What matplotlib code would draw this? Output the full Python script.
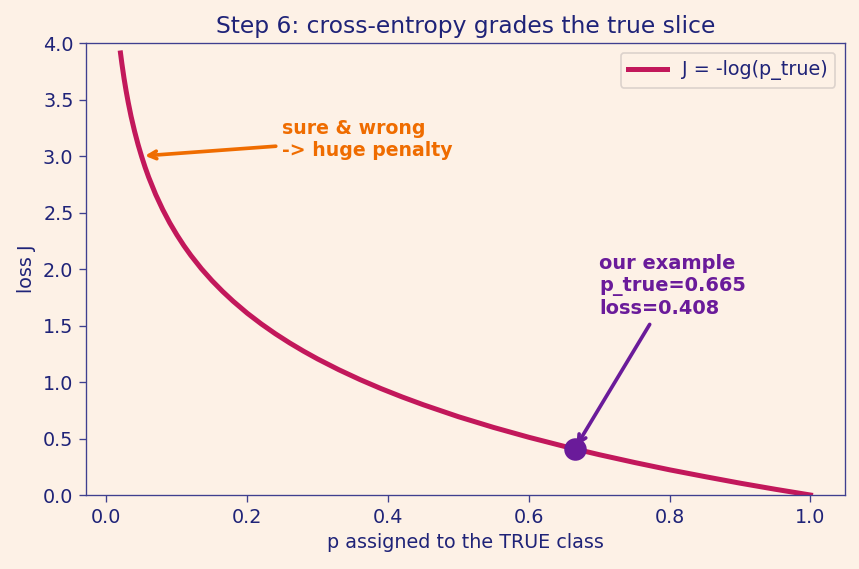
import numpy as np
import matplotlib
matplotlib.use('Agg')
import matplotlib.pyplot as plt

# values
p_true = [0.02, 0.022, 0.025, 0.028, 0.031, 0.035, 0.04, 0.045, 0.05, 0.055, 0.06,
          0.07, 0.08, 0.09, 0.1, 0.11, 0.12, 0.135, 0.15, 0.165, 0.18, 0.2, 0.22,
          0.24, 0.26, 0.28, 0.3, 0.33, 0.36, 0.39, 0.42, 0.45, 0.5, 0.55, 0.6,
          0.65, 0.7, 0.75, 0.8, 0.85, 0.9, 0.95, 1.0]
loss = [3.912, 3.817, 3.689, 3.576, 3.474, 3.352, 3.219, 3.101, 2.996, 2.900, 2.813,
        2.659, 2.526, 2.408, 2.303, 2.207, 2.120, 2.002, 1.897, 1.802, 1.715, 1.609, 1.514,
        1.427, 1.347, 1.273, 1.204, 1.109, 1.022, 0.942, 0.868, 0.799, 0.693, 0.598, 0.511,
        0.431, 0.357, 0.288, 0.223, 0.163, 0.105, 0.051, 0.0]

ex_p = 0.665
ex_loss = 0.408

bg = '#fdf1e6'
navy = '#1f2378'
spine_c = '#3f3f8f'
red = '#c2185b'
orange = '#ef6c00'
purple = '#6a1b9a'

fig = plt.figure(figsize=(859 / 120, 569 / 120), dpi=120, facecolor=bg)
ax = fig.add_axes([0.1001, 0.13, 0.8836, 0.7944])
ax.set_facecolor(bg)

ax.plot(p_true, loss, color=red, lw=3, label='J = -log(p_true)')
ax.plot([ex_p], [ex_loss], 'o', color=purple, markersize=12.5, zorder=5)

ax.set_ylim(0, 4)
ax.set_title('Step 6: cross-entropy grades the true slice', color=navy, fontsize=14)
ax.set_xlabel('p assigned to the TRUE class', color=navy, fontsize=11.5)
ax.set_ylabel('loss J', color=navy, fontsize=11.5)
ax.tick_params(colors=spine_c, labelcolor=navy, labelsize=11.5, length=4)
for s in ax.spines.values():
    s.set_color(spine_c)

ax.annotate('sure & wrong\n-> huge penalty', xy=(0.05, 3.0), xytext=(0.25, 3.0),
            color=orange, fontsize=11.3, fontweight='bold',
            arrowprops=dict(arrowstyle='->', color=orange, lw=2.2))
ax.annotate('our example\np_true=%.3f\nloss=%.3f' % (ex_p, ex_loss),
            xy=(ex_p, ex_loss), xytext=(0.70, 1.6),
            color=purple, fontsize=11.6, fontweight='bold',
            arrowprops=dict(arrowstyle='->', color=purple, lw=2.2))

leg = ax.legend(loc='upper right', fontsize=11.5, facecolor=bg, edgecolor='#dcd2cc',
                framealpha=1)
for t in leg.get_texts():
    t.set_color(navy)

fig.savefig('out.png', dpi=120, facecolor=bg)
